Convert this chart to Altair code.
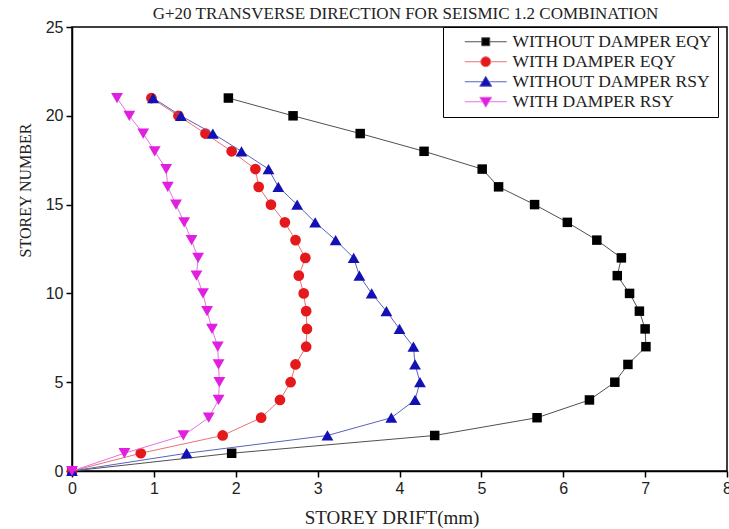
import altair as alt
import pandas as pd

storeys = list(range(22))

series_names = ["WITHOUT DAMPER EQY", "WITH DAMPER EQY", "WITHOUT DAMPER RSY", "WITH DAMPER RSY"]

without_damper_eqy = [0, 1.95, 4.43, 5.68, 6.32, 6.63, 6.79, 7.01, 7.00, 6.93, 6.81,
                      6.66, 6.71, 6.41, 6.05, 5.65, 5.21, 5.01, 4.30, 3.52, 2.70, 1.91]
with_damper_eqy = [0, 0.84, 1.84, 2.31, 2.54, 2.67, 2.73, 2.86, 2.87, 2.86, 2.83,
                   2.77, 2.85, 2.73, 2.60, 2.43, 2.28, 2.24, 1.95, 1.63, 1.30, 0.97]
without_damper_rsy = [0, 1.40, 3.12, 3.90, 4.19, 4.25, 4.19, 4.17, 4.00, 3.84, 3.66,
                      3.51, 3.44, 3.22, 2.97, 2.75, 2.52, 2.40, 2.07, 1.72, 1.33, 0.99]
with_damper_rsy = [0, 0.64, 1.36, 1.67, 1.79, 1.80, 1.79, 1.78, 1.71, 1.65, 1.60,
                   1.52, 1.54, 1.46, 1.37, 1.27, 1.17, 1.15, 1.01, 0.87, 0.70, 0.55]

x_ticks = [0, 1, 2, 3, 4, 5, 6, 7, 8]
y_ticks = [0, 5, 10, 15, 20, 25]

marker_colors = ["#000000", "#e5191c", "#1212b4", "#e01fe0"]
line_colors = ["#505050", "#e87272", "#5a62bc", "#e672e6"]
marker_shapes = ["square", "circle", "triangle-up", "triangle-down"]
marker_sizes = [90, 115, 140, 140]

# legend symbols: short line with the marker in the middle
legend_shapes = [
    "M-1,0M1.4,0H4.8M6.4,0H9.8M4.8,-0.8H6.4V0.8H4.8Z",
    "M-1,0M1.4,0H4.6M6.6,0H9.8M6.6,0C6.6,0.5523,6.1523,1,5.6,1C5.0477,1,4.6,0.5523,4.6,0"
    "C4.6,-0.5523,5.0477,-1,5.6,-1C6.1523,-1,6.6,-0.5523,6.6,0Z",
    "M-1,0M1.4,0H4.94M6.26,0H9.8M5.6,-1.1L6.8,0.9H4.4Z",
    "M-1,0M1.4,0H4.94M6.26,0H9.8M5.6,1.1L6.8,-0.9H4.4Z",
]

all_values = [without_damper_eqy, with_damper_eqy, without_damper_rsy, with_damper_rsy]
rows = []
for name, vals in zip(series_names, all_values):
    for s, v in zip(storeys, vals):
        rows.append({"series": name, "storey": s, "drift": v})
df = pd.DataFrame(rows)

x_enc = alt.X("drift:Q", scale=alt.Scale(domain=[0, 8], nice=False),
              axis=alt.Axis(values=x_ticks, title="STOREY DRIFT(mm)", titleX=319.5, titleY=46,
                            titleBaseline="middle", titleFontSize=19, labelFlush=False))
y_enc = alt.Y("storey:Q", scale=alt.Scale(domain=[0, 25], nice=False),
              axis=alt.Axis(values=y_ticks, title="STOREY NUMBER", titleX=-47, titleY=163,
                            titleAngle=270, titleBaseline="middle", titleAlign="center",
                            titleFontSize=16))

base = alt.Chart(df)
layers = []
for i, name in enumerate(series_names):
    sub = base.transform_filter(alt.datum.series == name)
    layers.append(
        sub.mark_line(color=line_colors[i], strokeWidth=1).encode(
            x=x_enc, y=y_enc, order=alt.Order("storey:Q")
        )
    )
    layers.append(
        sub.mark_point(shape=marker_shapes[i], filled=True, color=marker_colors[i],
                       size=marker_sizes[i], opacity=1).encode(x=x_enc, y=y_enc)
    )

legend_layer = base.transform_filter("false").mark_point(filled=True, opacity=1, strokeWidth=1).encode(
    x=x_enc,
    y=y_enc,
    fill=alt.Fill("series:N", scale=alt.Scale(domain=series_names, range=marker_colors),
                  legend=alt.Legend(title=None)),
    stroke=alt.Stroke("series:N", scale=alt.Scale(domain=series_names, range=line_colors),
                      legend=alt.Legend(title=None)),
    shape=alt.Shape("series:N", scale=alt.Scale(domain=series_names, range=legend_shapes),
                    legend=alt.Legend(title=None)),
)
layers.append(legend_layer)

chart = alt.layer(*layers).properties(
    width=655,
    height=444,
    autosize="none",
    padding={"left": 72, "top": 27, "right": 2, "bottom": 58},
    title=alt.TitleParams(
        text="G+20 TRANSVERSE DIRECTION FOR SEISMIC 1.2 COMBINATION",
        font="Liberation Serif", fontSize=17, fontWeight="normal", color="#222222",
        anchor="middle", dx=6, dy=10, offset=6,
    ),
).configure_view(
    stroke="black", strokeWidth=1.5
).configure_axis(
    grid=False,
    domainColor="black", domainWidth=1.5,
    tickColor="black", tickWidth=1.5, tickSize=6,
    labelFont="Liberation Sans", labelFontSize=16, labelColor="#222222", labelPadding=3,
    titleFont="Liberation Serif", titleFontWeight="normal", titleColor="#222222",
).configure_legend(
    orient="none", legendX=371, legendY=0,
    padding=6, strokeColor="black", strokeWidth=1, fillColor="white",
    labelFont="Liberation Serif", labelFontSize=17.5, labelColor="#222222", labelLimit=400,
    symbolSize=100, symbolStrokeWidth=1, labelOffset=46, rowPadding=1,
)

chart.save("out.html", embed_options={"renderer": "svg", "actions": False})
